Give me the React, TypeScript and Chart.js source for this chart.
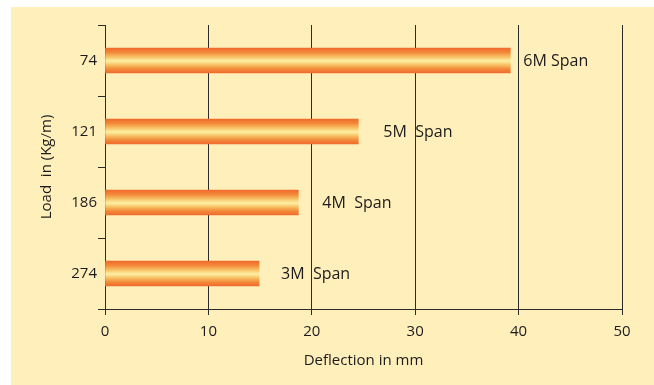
import React, { useEffect, useRef } from "react";
import { Chart, registerables } from "chart.js";

Chart.register(...registerables);

const loads = ["74", "121", "186", "274"];
const deflection = [39.2, 24.5, 18.7, 14.9];
const spanLabels = ["6M Span", "5M  Span", "4M  Span", "3M  Span"];
const xTicks = [0, 10, 20, 30, 40, 50];
const labelOffsets = [13, 25, 24, 22];

const FONT = "'Open Sans', 'Liberation Sans', sans-serif";
const TEXT = "#1e1b1c";
const LINE = "#2b2b2b";
const BAR_T = 25;

export default function App() {
  const ref = useRef<HTMLCanvasElement | null>(null);

  useEffect(() => {
    document.body.style.margin = "0";
    const canvas = ref.current;
    if (!canvas) return;

    const spanLabelPlugin = {
      id: "spanLabels",
      afterDatasetsDraw(chart: any) {
        const ctx = chart.ctx;
        const meta = chart.getDatasetMeta(0);
        ctx.save();
        ctx.font = `16px ${FONT}`;
        ctx.fillStyle = TEXT;
        ctx.textAlign = "left";
        ctx.textBaseline = "middle";
        meta.data.forEach((el: any, i: number) => {
          ctx.fillText(spanLabels[i], el.x + labelOffsets[i], el.y + 1);
        });
        ctx.restore();
      },
    };

    const chart = new Chart(canvas, {
      type: "bar",
      data: {
        labels: loads,
        datasets: [
          {
            data: deflection,
            barThickness: BAR_T,
            borderWidth: 0,
            backgroundColor: (c: any) => {
              const ch = c.chart;
              const y = ch.scales && ch.scales.y;
              if (!y || c.dataIndex == null) return "#f07530";
              const center = y.getPixelForValue(c.dataIndex);
              const top = center - BAR_T / 2;
              const bottom = center + BAR_T / 2;
              if (!isFinite(top)) return "#f07530";
              const g = ch.ctx.createLinearGradient(0, top, 0, bottom);
              g.addColorStop(0, "#ef6a2c");
              g.addColorStop(0.18, "#f38a3a");
              g.addColorStop(0.35, "#f8bf62");
              g.addColorStop(0.52, "#fdf0a4");
              g.addColorStop(0.68, "#f8bf62");
              g.addColorStop(0.84, "#f38a3a");
              g.addColorStop(1, "#ef6a2c");
              return g;
            },
          },
        ],
      },
      options: {
        indexAxis: "y",
        responsive: false,
        animation: false,
        devicePixelRatio: 1,
        layout: { padding: { left: 0, right: 32, top: 25, bottom: 0 } },
        plugins: {
          legend: { display: false },
          tooltip: { enabled: false },
        },
        scales: {
          x: {
            type: "linear",
            min: 0,
            max: 50,
            afterBuildTicks: (s: any) => {
              s.ticks = xTicks.map((v) => ({ value: v }));
            },
            afterFit: (s: any) => {
              s.height = 76;
            },
            ticks: {
              color: TEXT,
              font: { family: FONT, size: 15 },
              padding: 8,
            },
            grid: {
              color: LINE,
              lineWidth: 1,
              tickLength: 6,
            },
            border: { display: true, color: LINE, width: 1 },
            title: {
              display: true,
              text: "Deflection in mm",
              color: TEXT,
              font: { family: FONT, size: 15 },
              padding: { top: 0, bottom: 15 },
            },
          },
          y: {
            type: "category",
            offset: true,
            afterFit: (s: any) => {
              s.width = 105;
            },
            ticks: {
              color: TEXT,
              font: { family: FONT, size: 15 },
              padding: 1,
            },
            grid: {
              offset: true,
              drawOnChartArea: false,
              color: LINE,
              lineWidth: 1,
              tickLength: 7,
            },
            border: { display: true, color: LINE, width: 1 },
            title: {
              display: true,
              text: "Load  in (Kg/m)",
              color: TEXT,
              font: { family: FONT, size: 15 },
              padding: { top: 38, bottom: 0 },
            },
          },
        },
      },
      plugins: [spanLabelPlugin],
    } as any);

    return () => chart.destroy();
  }, []);

  return (
    <div style={{ position: "relative", width: 654, height: 385, background: "#ffffff" }}>
      <div
        style={{
          position: "absolute",
          left: 11,
          top: 7,
          width: 643,
          height: 378,
          background: "#feefbb",
        }}
      />
      <canvas
        ref={ref}
        width={654}
        height={385}
        style={{ position: "absolute", left: 0, top: 0, width: 654, height: 385 }}
      />
    </div>
  );
}
